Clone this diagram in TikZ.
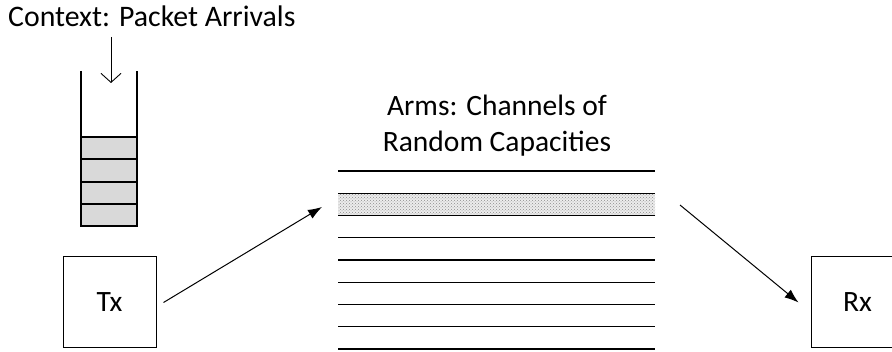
\documentclass[tikz,border=0pt]{standalone}
\usepackage{fontspec}
\setmainfont{Carlito}
\usetikzlibrary{arrows.meta,patterns}

\begin{document}
\begin{tikzpicture}[x=1pt,y=-1pt,
  box/.style={draw,line width=1pt,minimum width=93pt,minimum height=91pt,font=\fontsize{29.5}{32}\selectfont},
  link/.style={line width=1pt,-{Latex[length=14pt,width=10pt]}},
  wall/.style={line width=1.3pt},
  chan/.style={line width=1.2pt}]
\useasboundingbox (0,0) rectangle (892,352);
\clip (0,0) rectangle (892,352);
\node[anchor=base west,inner sep=0pt,font=\fontsize{29.8}{32}\selectfont] (ctx) at (8,27) {Context: Packet Arrivals};
% queue
\fill[gray!30] (81,137) rectangle (137,226);
\foreach \y in {137,159,182,204}
  \draw[wall] (81,\y) -- (137,\y);
\draw[wall] (81,71) -- (81,226) -- (137,226) -- (137,71);
\coordinate (qin) at (111,37);
\coordinate (qtop) at (111,83);
\draw[line width=0.9pt,-{Straight Barb[length=9pt,width=20pt]}] (qin) -- (qtop);
% channels
\node[align=center,font=\fontsize{29.5}{36}\selectfont] (arms) at (497,126) {Arms: Channels of\\Random Capacities};
\fill[gray!15] (338,193.25) rectangle (655,215.5);
\fill[pattern=crosshatch dots,pattern color=gray!90] (338,193.25) rectangle (655,215.5);
\foreach \i in {0,...,8}
  \draw[chan] (338,171+22.25*\i) -- (655,171+22.25*\i);
% Tx and Rx
\node[box] (Tx) at (109.5,302.5) {Tx};
\node[box] (Rx) at (857.5,302.5) {Rx};
\coordinate (chin) at (322,207);
\coordinate (chout) at (680,205);
\draw[link] ([xshift=7pt]Tx.east) -- (chin);
\draw[link] (chout) -- ([xshift=-12pt]Rx.west);
\end{tikzpicture}
\end{document}
